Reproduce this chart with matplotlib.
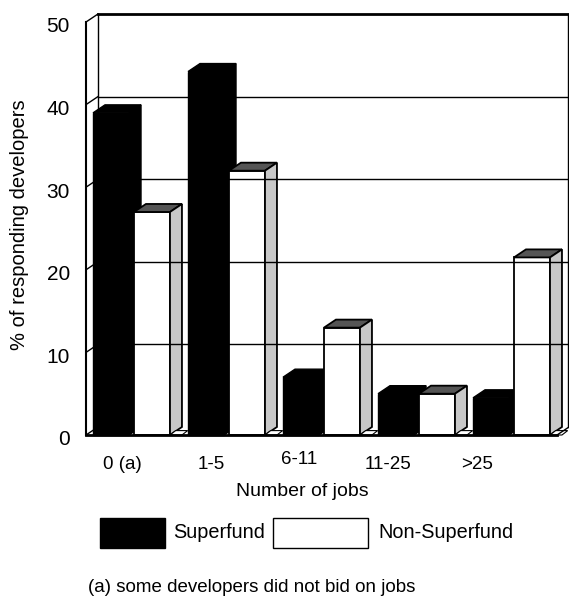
import matplotlib
matplotlib.use("Agg")
import matplotlib.pyplot as plt
from matplotlib.patches import Polygon, Rectangle

plt.rcParams['font.family'] = ['Liberation Sans', 'DejaVu Sans']

# Data
categories = ['0 (a)', '1-5', '6-11', '11-25', '>25']
superfund = [39, 44, 7, 5, 4.5]
non_superfund = [27, 32, 13, 5, 21.5]
yticks = [0, 10, 20, 30, 40, 50]

# 3D look: depth offset in data units
dx, dy = 0.126, 0.97
xmax = 5.084
bw = 0.379          # bar width
black_off = 0.074   # left edge of black bar inside a group
white_off = 0.505   # left edge of white bar inside a group

fig = plt.figure(figsize=(5.69, 6.05), dpi=100)
ax = fig.add_axes([86 / 569, 1 - 435 / 605, 483 / 569, 421 / 605])
ax.set_xlim(0, xmax)
ax.set_ylim(0, 50 + dy)
ax.axis('off')


def box(x0, h, front, top, side, lw=1.0):
    # front face, top face, side face of one 3D bar
    ax.add_patch(Polygon([(x0, 0), (x0 + bw, 0), (x0 + bw, h), (x0, h)],
                         closed=True, fc=front, ec='black', lw=lw, clip_on=False))
    ax.add_patch(Polygon([(x0, h), (x0 + dx, h + dy), (x0 + bw + dx, h + dy), (x0 + bw, h)],
                         closed=True, fc=top, ec='black', lw=lw, clip_on=False))
    ax.add_patch(Polygon([(x0 + bw, 0), (x0 + bw + dx, dy), (x0 + bw + dx, h + dy), (x0 + bw, h)],
                         closed=True, fc=side, ec='black', lw=lw, clip_on=False))


# back wall grid lines and walls
for v in yticks[1:]:
    ax.plot([dx, xmax], [v + dy, v + dy], color='black', lw=2.0 if v == 50 else 1.0, clip_on=False)
ax.plot([dx, dx], [dy, 50 + dy], color='black', lw=1.0, clip_on=False)
ax.plot([0, 0], [0, 50], color='black', lw=1.5, clip_on=False)
for v in yticks:
    ax.plot([0, dx], [v, v + dy], color='black', lw=1.0, clip_on=False)
ax.plot([xmax - 0.01, xmax - 0.01], [dy, 50 + dy], color='black', lw=1.0, clip_on=False)

# bars
for i in range(len(categories)):
    box(i + black_off, superfund[i], 'black', 'black', 'black')
    box(i + white_off, non_superfund[i], 'white', '#555555', '#c8c8c8', lw=1.3)
    r = i + white_off + bw
    ax.add_patch(Polygon([(r, 0), (r + dx, 0.0), (r + dx + 0.06, dy * 0.55), (r + 0.06, dy * 0.55)],
                         closed=True, fc='white', ec='black', lw=0.8, clip_on=False))

# floor
ax.plot([0, xmax - dx], [0, 0], color='black', lw=2.0, clip_on=False)
ax.plot([xmax - dx, xmax], [0, dy], color='black', lw=1.0, clip_on=False)

# y tick labels
for v in yticks:
    ax.text(-0.17, v - 0.6, str(v), ha='right', va='center', fontsize=15)

ax.text(-0.70, 25.5, '% of responding developers', rotation=90,
        ha='center', va='center', fontsize=14.5)

# x tick labels (spaced a bit tighter than the bars, as in the original)
for i, lab in enumerate(categories):
    ax.text(0.38 + i * 0.934, -3.6 if i != 2 else -3.0, lab, ha='center', va='center', fontsize=13.5)
ax.text(2.28, -6.9, 'Number of jobs', ha='center', va='center', fontsize=14)

# legend
fig.add_artist(Rectangle((100 / 569, 1 - 548 / 605), 65 / 569, 30 / 605,
                         transform=fig.transFigure, fc='black', ec='black'))
fig.text(173 / 569, 1 - 533 / 605, 'Superfund', ha='left', va='center', fontsize=14.3)
fig.add_artist(Rectangle((273 / 569, 1 - 548 / 605), 95 / 569, 30 / 605,
                         transform=fig.transFigure, fc='white', ec='black', lw=1.0))
fig.text(378 / 569, 1 - 533 / 605, 'Non-Superfund', ha='left', va='center', fontsize=14.3)

fig.text(252 / 569, 1 - 587 / 605, '(a) some developers did not bid on jobs',
         ha='center', va='center', fontsize=13.5)

fig.savefig('out.png', dpi=100)
